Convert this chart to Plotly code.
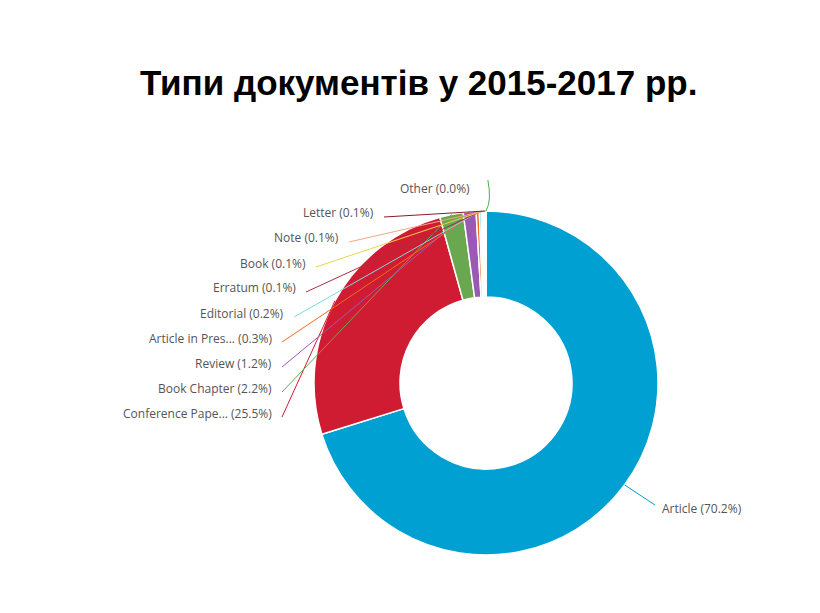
import math
import plotly.graph_objects as go

labels = ["Article", "Conference Paper", "Book Chapter", "Review", "Article in Press",
          "Editorial", "Erratum", "Book", "Note", "Letter", "Other"]
short_labels = ["Article", "Conference Pape...", "Book Chapter", "Review", "Article in Pres...",
                "Editorial", "Erratum", "Book", "Note", "Letter", "Other"]
values = [70.2, 25.5, 2.2, 1.2, 0.3, 0.2, 0.1, 0.1, 0.1, 0.1, 0.02]
shown_pct = ["70.2%", "25.5%", "2.2%", "1.2%", "0.3%", "0.2%", "0.1%", "0.1%", "0.1%", "0.1%", "0.0%"]
colors = ["#00a0d2", "#d01c33", "#6aa84f", "#9b59b6", "#f06a1f",
          "#7fdbd7", "#a8323e", "#e8d44d", "#f4a582", "#8b1a2b", "#4caf50"]

W, H = 820, 613
cx, cy, R = 478, 375, 172

# label anchor (right end x, center y) in pixels -- layout only
anchors = {
    "Article": (652, 500, "left"),
    "Conference Paper": (266, 405, "right"),
    "Book Chapter": (266, 380, "right"),
    "Review": (266, 355, "right"),
    "Article in Press": (266, 330, "right"),
    "Editorial": (278, 305, "right"),
    "Erratum": (290, 280, "right"),
    "Book": (300, 255, "right"),
    "Note": (333, 230, "right"),
    "Letter": (368, 205, "right"),
    "Other": (464, 180, "right"),
}

def px(x):
    return x / W

def py(y):
    return 1 - y / H

fig = go.Figure(go.Pie(
    labels=labels, values=values, sort=False, direction="clockwise", rotation=0,
    hole=0.5, marker=dict(colors=colors, line=dict(color="white", width=1.5)),
    textinfo="none", hoverinfo="label+percent", showlegend=False,
    domain=dict(x=[px(cx - R), px(cx + R)], y=[py(cy + R), py(cy - R)]),
))

total = sum(values)
cum = 0
shapes, annos = [], []
for lab, sl, v, p, c in zip(labels, short_labels, values, shown_pct, colors):
    mid = (cum + v / 2) / total
    cum += v
    th = 2 * math.pi * mid
    ex, ey = cx + R * math.sin(th), cy - R * math.cos(th)
    ax_, ay_, side = anchors[lab]
    if side == "right":
        sx, sy = ax_ + 8, ay_ + 4
    else:
        sx, sy = ax_ - 5, ay_ - 3
    if lab == "Other":
        path = f"M {px(ex)},{py(ey)} Q {px(ex+6)},{py(ey-10)} {px(ex+2)},{py(ay_ - 8)}"
        shapes.append(dict(type="path", xref="paper", yref="paper", path=path,
                           line=dict(color=c, width=1)))
    else:
        shapes.append(dict(type="line", xref="paper", yref="paper",
                           x0=px(ex), y0=py(ey), x1=px(sx), y1=py(sy),
                           line=dict(color=c, width=1)))
    annos.append(dict(x=px(ax_), y=py(ay_), xref="paper", yref="paper",
                      text=f"{sl} ({p})", showarrow=False,
                      xanchor="right" if side == "right" else "left", yanchor="middle",
                      font=dict(family="Open Sans", size=12, color="#555555")))

annos.append(dict(x=0.5, y=py(75), xref="paper", yref="paper",
                  text="<b>Типи документів у 2015-2017 рр.</b>", showarrow=False,
                  xanchor="center", yanchor="middle",
                  font=dict(family="Liberation Sans", size=35, color="black")))

fig.update_layout(width=W, height=H, margin=dict(l=0, r=0, t=0, b=0),
                  paper_bgcolor="white", plot_bgcolor="white",
                  shapes=shapes, annotations=annos)
fig.write_html("out.html")
